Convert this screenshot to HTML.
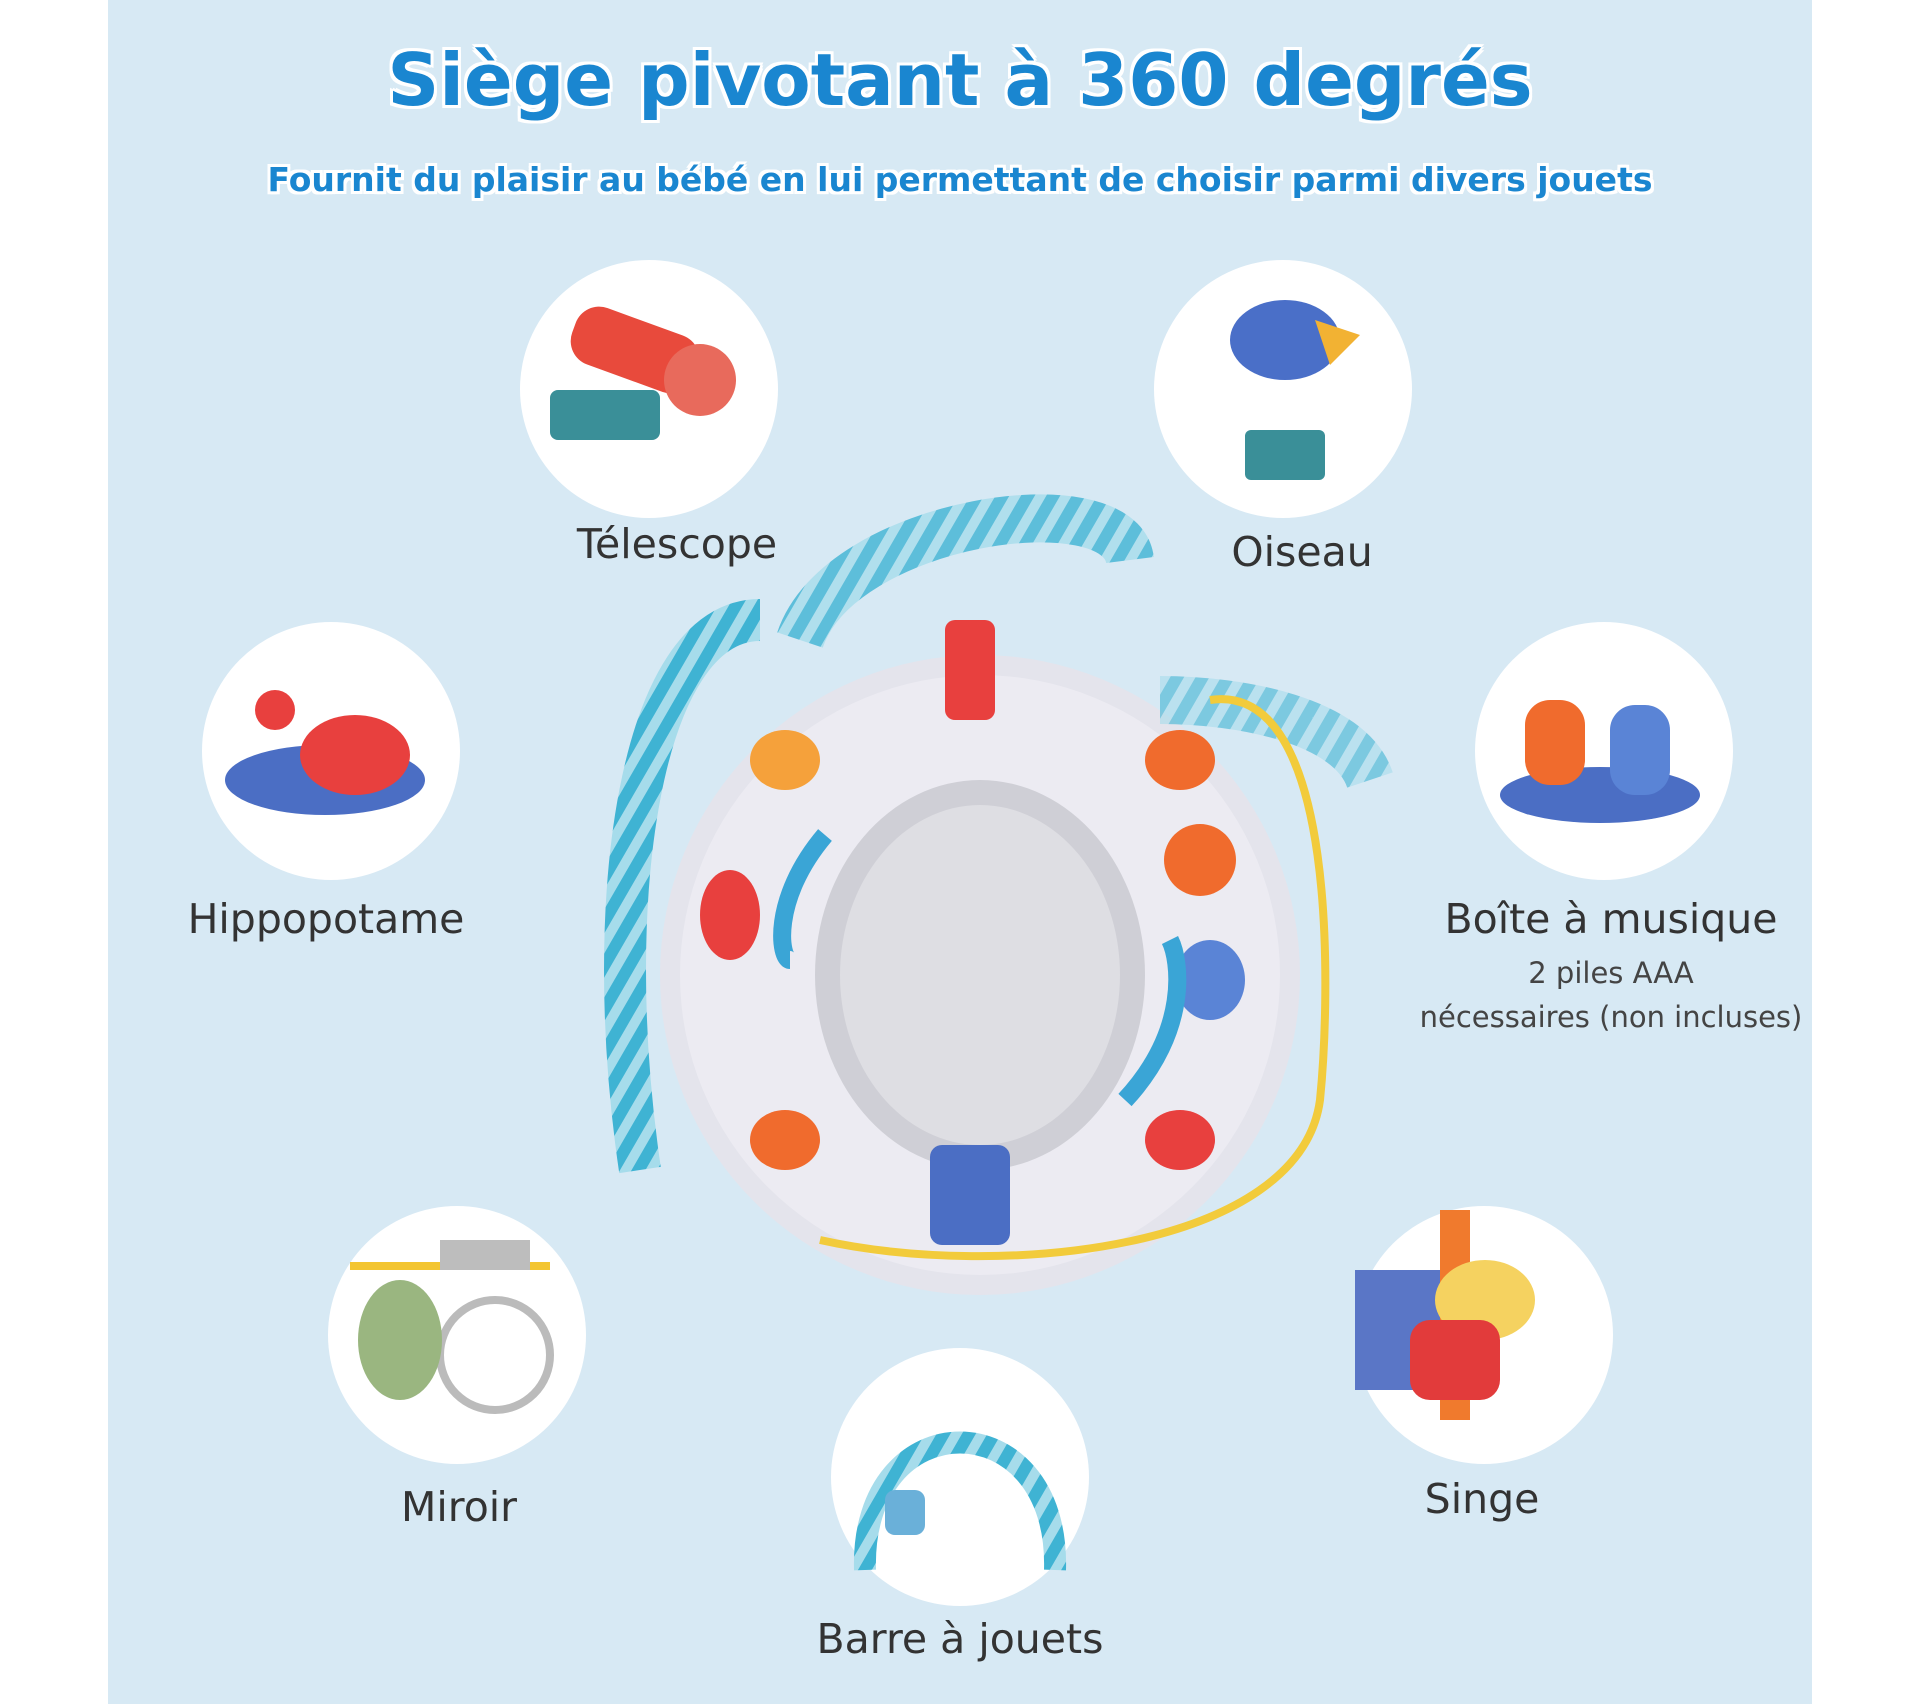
<!DOCTYPE html>
<html><head><meta charset="utf-8"><style>
html,body{margin:0;padding:0;background:#fff;}
#c{position:relative;width:1920px;height:1704px;overflow:hidden;background:#fff;font-family:"DejaVu Sans","Liberation Sans",sans-serif;}
#bg{position:absolute;left:108px;top:0;width:1704px;height:1704px;background:#d7e9f4;}
.t{position:absolute;left:0;width:1920px;text-align:center;color:#1a86d0;font-weight:bold;
 text-shadow:-3px -3px 0 #fff,3px -3px 0 #fff,-3px 3px 0 #fff,3px 3px 0 #fff,0 3px 0 #fff,0 -3px 0 #fff,3px 0 0 #fff,-3px 0 0 #fff;}
.l{position:absolute;transform:translateX(-50%);white-space:nowrap;color:#333;font-size:41px;}
.s{position:absolute;transform:translateX(-50%);white-space:nowrap;color:#444;font-size:29px;}
svg{position:absolute;left:0;top:0;}
</style></head><body><div id="c"><div id="bg"></div>
<div class="t" style="top:38px;font-size:72px;">Siège pivotant à 360 degrés</div>
<div class="t" style="top:160px;font-size:33px;">Fournit du plaisir au bébé en lui permettant de choisir parmi divers jouets</div>
<svg width="1920" height="1704">
<defs><pattern id="st" width="22" height="22" patternUnits="userSpaceOnUse" patternTransform="rotate(30)"><rect width="22" height="22" fill="#3fb3d3"/><rect width="10" height="22" fill="#a6dceb"/></pattern></defs>
<g fill="#fff">
<circle cx="649" cy="389" r="129"/><circle cx="1283" cy="389" r="129"/>
<circle cx="331" cy="751" r="129"/><circle cx="1604" cy="751" r="129"/>
<circle cx="457" cy="1335" r="129"/><circle cx="1484" cy="1335" r="129"/>
<circle cx="960" cy="1477" r="129"/></g>
<rect x="550" y="390" width="110" height="50" rx="8" fill="#3a8f98"/>
<rect x="570" y="320" width="130" height="60" rx="25" fill="#e84a3c" transform="rotate(20 635 350)"/>
<circle cx="700" cy="380" r="36" fill="#e86a5c"/>
<rect x="1245" y="430" width="80" height="50" rx="6" fill="#3a8f98"/>
<ellipse cx="1285" cy="340" rx="55" ry="40" fill="#4a6fc8"/>
<polygon points="1315,320 1360,335 1330,365" fill="#f2b233"/>
<ellipse cx="325" cy="780" rx="100" ry="35" fill="#4b6ec4"/>
<ellipse cx="355" cy="755" rx="55" ry="40" fill="#e8403e"/>
<circle cx="275" cy="710" r="20" fill="#e8403e"/>
<ellipse cx="1600" cy="795" rx="100" ry="28" fill="#4b6ec4"/>
<rect x="1525" y="700" width="60" height="85" rx="25" fill="#f06b2d"/>
<rect x="1610" y="705" width="60" height="90" rx="25" fill="#5a84d6"/>
<rect x="350" y="1262" width="200" height="8" fill="#f3c531"/>
<rect x="440" y="1240" width="90" height="30" fill="#bdbdbd"/>
<circle cx="495" cy="1355" r="55" fill="none" stroke="#bbb" stroke-width="8"/>
<ellipse cx="400" cy="1340" rx="42" ry="60" fill="#9ab680"/>
<rect x="1355" y="1270" width="110" height="120" fill="#5a76c6"/>
<rect x="1440" y="1210" width="30" height="210" fill="#f07a2d"/>
<ellipse cx="1485" cy="1300" rx="50" ry="40" fill="#f5d260"/>
<rect x="1410" y="1320" width="90" height="80" rx="20" fill="#e23b3b"/>
<path d="M865,1570 C860,1400 1060,1400 1055,1570" fill="none" stroke="url(#st)" stroke-width="22"/>
<rect x="885" y="1490" width="40" height="45" rx="10" fill="#6ab0d9"/>
<circle cx="980" cy="975" r="320" fill="#e4e4ec"/>
<circle cx="980" cy="975" r="300" fill="#ecebf2"/>
<path d="M640,1170 C600,900 640,620 760,620" fill="none" stroke="url(#st)" stroke-width="42"/>
<path d="M800,640 C840,520 1120,480 1130,560" fill="none" stroke="url(#st)" stroke-width="48" opacity="0.8"/>
<path d="M1160,700 C1240,700 1350,720 1370,780" fill="none" stroke="url(#st)" stroke-width="48" opacity="0.6"/>
<path d="M1210,700 C1340,680 1330,1000 1320,1100 C1300,1250 1000,1280 820,1240" fill="none" stroke="#f2cb3b" stroke-width="8"/>
<ellipse cx="980" cy="975" rx="165" ry="195" fill="#cfcfd6"/>
<ellipse cx="980" cy="975" rx="140" ry="170" fill="#dedee3"/>
<rect x="945" y="620" width="50" height="100" rx="10" fill="#e8403e"/>
<rect x="930" y="1145" width="80" height="100" rx="12" fill="#4b6ec4"/>
<circle cx="1200" cy="860" r="36" fill="#f06b2d"/>
<ellipse cx="1210" cy="980" rx="35" ry="40" fill="#5a84d6"/>
<ellipse cx="730" cy="915" rx="30" ry="45" fill="#e8403e"/>
<ellipse cx="785" cy="760" rx="35" ry="30" fill="#f5a13b"/>
<ellipse cx="1180" cy="760" rx="35" ry="30" fill="#f06b2d"/>
<ellipse cx="785" cy="1140" rx="35" ry="30" fill="#f06b2d"/>
<ellipse cx="1180" cy="1140" rx="35" ry="30" fill="#e8403e"/>
<path d="M825,835 C770,900 780,960 790,960" fill="none" stroke="#3aa5d6" stroke-width="18"/>
<path d="M1125,1100 C1190,1030 1180,960 1170,940" fill="none" stroke="#3aa5d6" stroke-width="18"/>
</svg>
<div class="l" style="left:677px;top:520px;">Télescope</div>
<div class="l" style="left:1302px;top:528px;">Oiseau</div>
<div class="l" style="left:326px;top:895px;">Hippopotame</div>
<div class="l" style="left:1611px;top:895px;">Boîte à musique</div>
<div class="s" style="left:1611px;top:956px;">2 piles AAA</div>
<div class="s" style="left:1611px;top:1000px;">nécessaires (non incluses)</div>
<div class="l" style="left:459px;top:1483px;">Miroir</div>
<div class="l" style="left:1482px;top:1475px;">Singe</div>
<div class="l" style="left:960px;top:1615px;">Barre à jouets</div>
</div></body></html>
